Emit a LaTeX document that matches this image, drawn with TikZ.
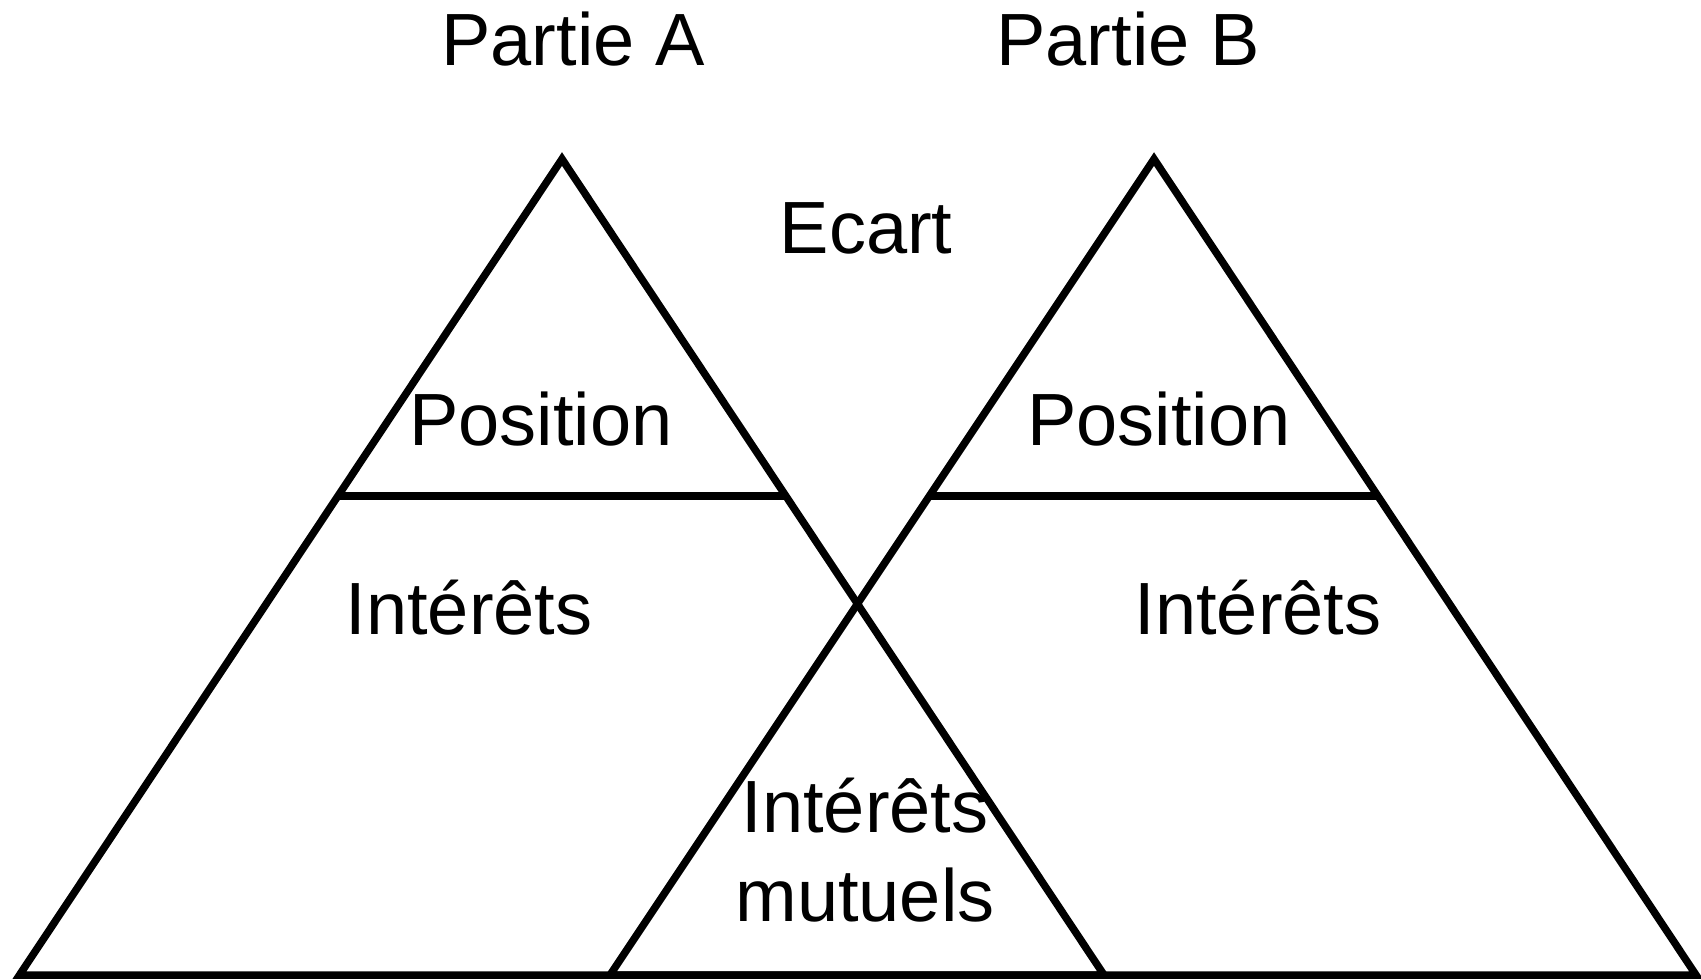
\documentclass[tikz,border=0pt]{standalone}
\usepackage{fontspec}
\setmainfont{Liberation Sans}
\usetikzlibrary{calc}
\begin{document}
\begin{tikzpicture}[x=0.5pt,y=-0.5pt,
  edge/.style={line width=3.75pt, line join=miter, black},
  lbl/.style={font=\fontsize{37}{44}\selectfont, inner sep=0pt, anchor=center, align=center}]
\useasboundingbox (0,0) rectangle (1701,979);
% triangle A
\coordinate (aT) at (562,159);
\coordinate (aL) at (19.5,975);
\coordinate (aR) at (1104,975);
% triangle B
\coordinate (bT) at (1154,159);
\coordinate (bL) at (610,975);
\coordinate (bR) at (1696,975);
\draw[edge] (aT) -- (aL) -- (aR) -- cycle;
\draw[edge] (bT) -- (bL) -- (bR) -- cycle;
% position lines
\coordinate (aPL) at ($(aT)!0.413!(aL)$);
\coordinate (aPR) at ($(aT)!0.413!(aR)$);
\coordinate (bPL) at ($(bT)!0.413!(bL)$);
\coordinate (bPR) at ($(bT)!0.413!(bR)$);
\draw[edge] (aPL) -- (aPR);
\draw[edge] (bPL) -- (bPR);
% labels
\node[lbl] (pa) at (573,39) {Partie A};
\node[lbl] (pb) at (1128,39) {Partie B};
\node[lbl] (ecart) at (866,228) {Ecart};
\node[lbl] (posa) at (541,419) {Position};
\node[lbl] (posb) at (1159,419) {Position};
\node[lbl] (inta) at (469,608) {Intérêts};
\node[lbl] (intb) at (1258,608) {Intérêts};
\node[lbl] (intm1) at (865,806) {Intérêts};
\node[lbl] (intm2) at (865,895) {mutuels};
\end{tikzpicture}
\end{document}
